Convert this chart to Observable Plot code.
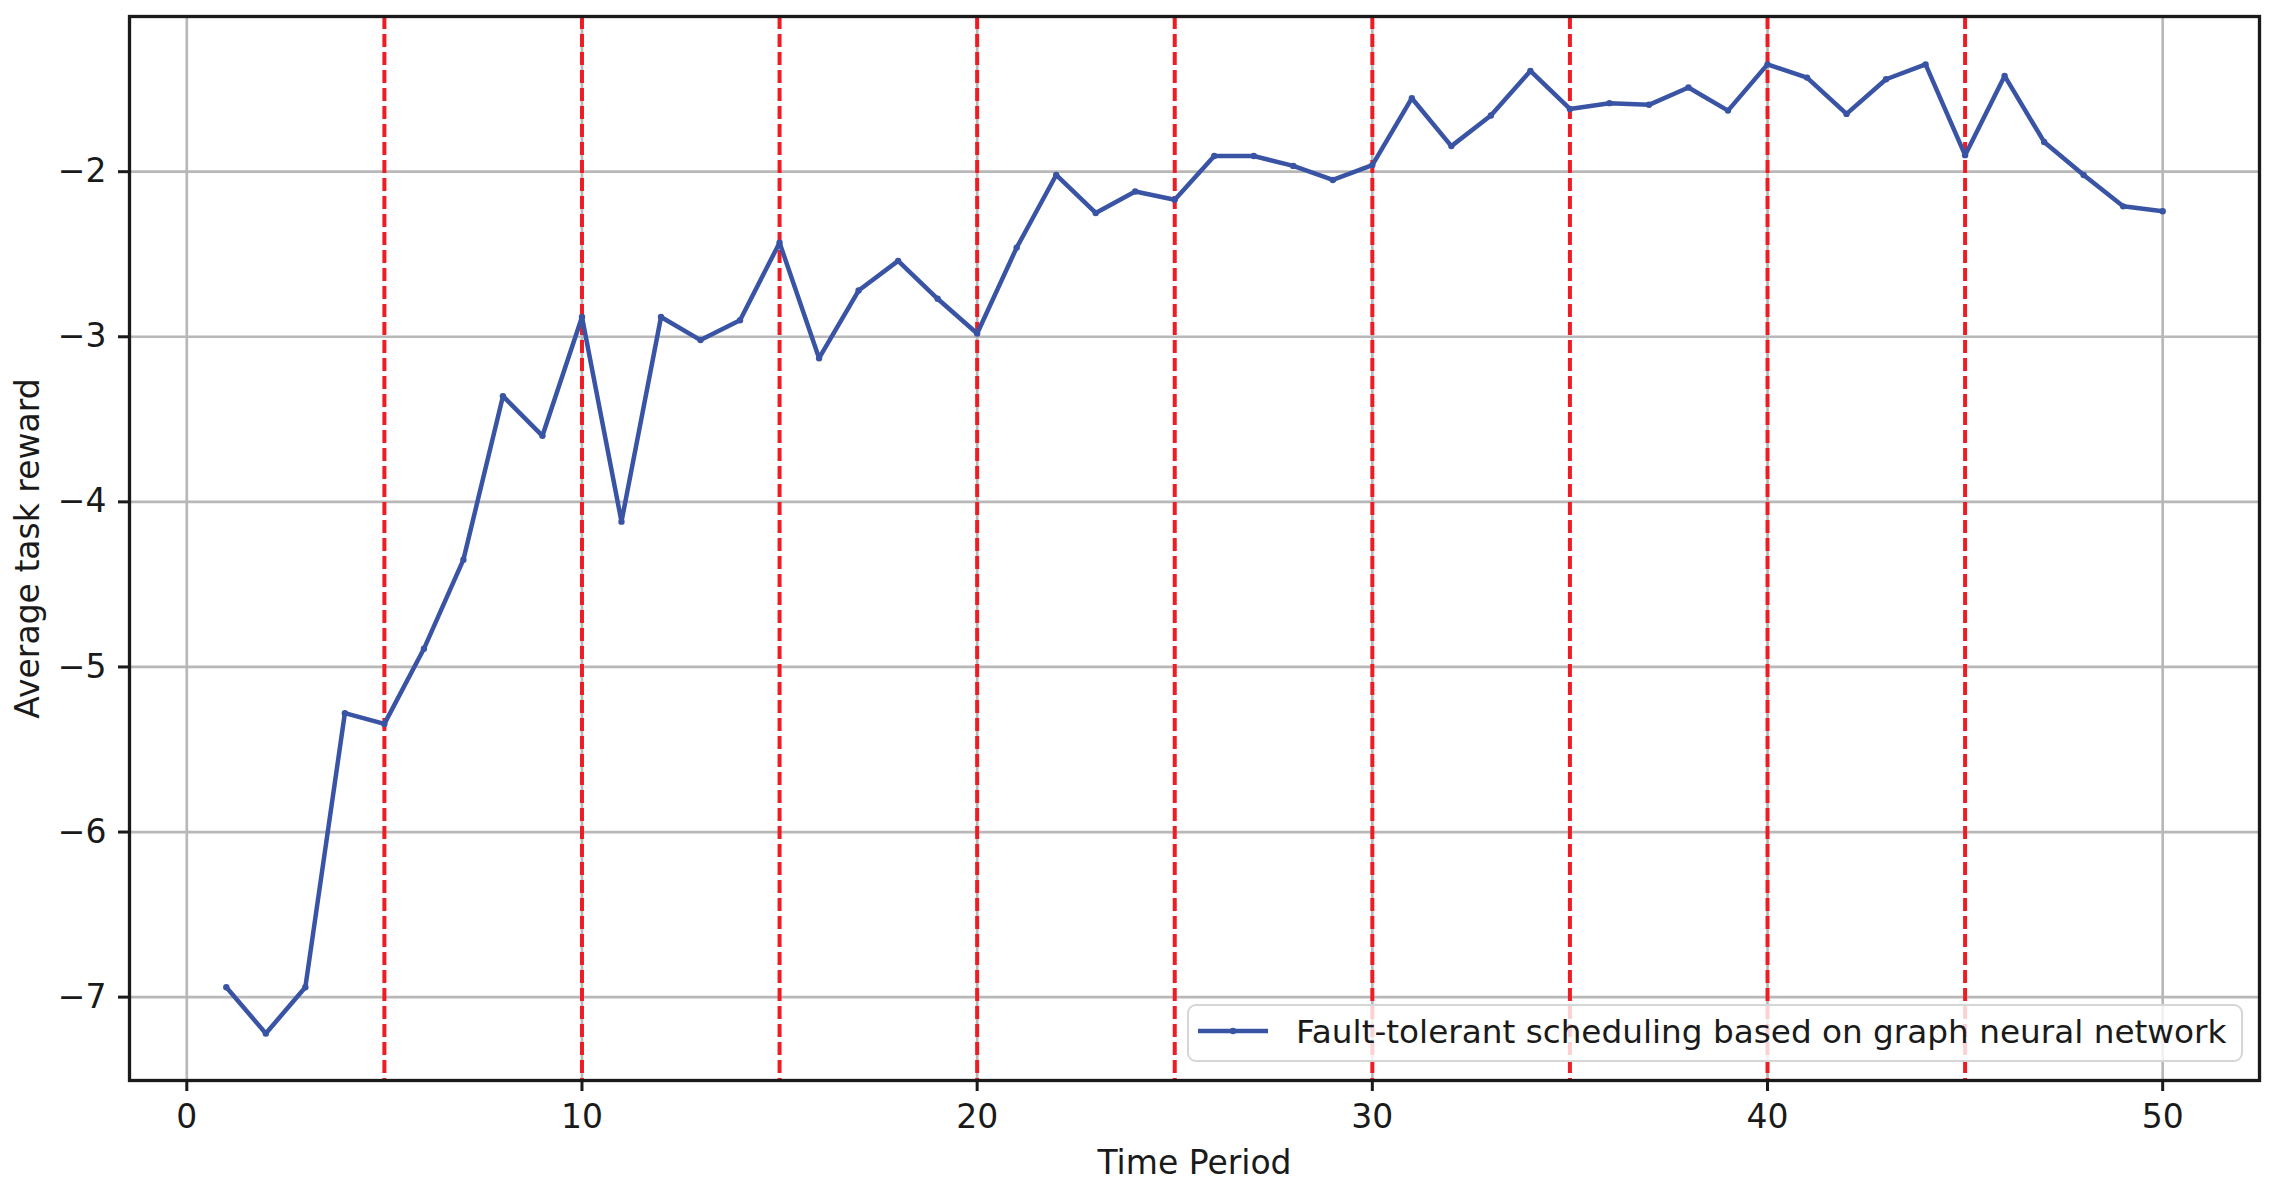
<!DOCTYPE html>
<html>
<head>
<meta charset="utf-8">
<script src="https://cdn.jsdelivr.net/npm/d3@7"></script>
<script src="https://cdn.jsdelivr.net/npm/@observablehq/plot@0.6"></script>
<style>
  html, body { margin: 0; padding: 0; background: white; }
  #wrap { position: relative; width: 2275px; height: 1192px; }
  #legend {
    position: absolute; left: 1187px; top: 1004px; width: 1052px; height: 54px;
    border: 2.7px solid #d6d6d6; border-radius: 9px; background: rgba(255,255,255,0.8);
    font-family: "DejaVu Sans", sans-serif; font-size: 32.7px; color: #1a1a1a;
  }
  #legend svg { position: absolute; left: 9px; top: 0px; }
  #legend span { position: absolute; left: 107px; top: 8px; line-height: 36px; white-space: nowrap; }
</style>
</head>
<body>
<div id="wrap"></div>
<script>
// Data
const periods = d3.range(1, 51);
const rewards = [
  -6.94, -7.22, -6.94, -5.28, -5.345, -4.89, -4.35, -3.36, -3.60, -2.88,
  -4.12, -2.88, -3.02, -2.90, -2.43, -3.13, -2.72, -2.54, -2.77, -2.98,
  -2.46, -2.02, -2.25, -2.12, -2.17, -1.905, -1.905, -1.965, -2.05, -1.96,
  -1.555, -1.845, -1.66, -1.39, -1.62, -1.585, -1.595, -1.49, -1.63, -1.35,
  -1.43, -1.65, -1.44, -1.35, -1.90, -1.42, -1.82, -2.02, -2.21, -2.24
];
const faultPeriods = [5, 10, 15, 20, 25, 30, 35, 40, 45];
const xTicks = [0, 10, 20, 30, 40, 50];
const yTicks = [-7, -6, -5, -4, -3, -2];
const seriesName = "Fault-tolerant scheduling based on graph neural network";
const xLabel = "Time Period";
const yLabel = "Average task reward";

const data = periods.map((p, i) => ({period: p, reward: rewards[i]}));

const blue = "#3a54a5";
const red = "#ee1d23";
const grid = "#b8b8b8";
const ink = "#1a1a1a";
const fmt = d3.format("d");

const chart = Plot.plot({
  width: 2275,
  height: 1192,
  marginLeft: 129,
  marginRight: 16,
  marginTop: 16,
  marginBottom: 112,
  style: {fontFamily: "DejaVu Sans", fontSize: "33px", background: "white", color: ink},
  x: {domain: [-1.45, 52.45]},
  y: {domain: [-7.505, -1.06]},
  marks: [
    Plot.gridX(xTicks, {stroke: grid, strokeOpacity: 1, strokeWidth: 2.7}),
    Plot.gridY(yTicks, {stroke: grid, strokeOpacity: 1, strokeWidth: 2.7}),
    Plot.ruleX(faultPeriods, {stroke: red, strokeWidth: 4, strokeDasharray: "13,5"}),
    Plot.line(data, {x: "period", y: "reward", stroke: blue, strokeWidth: 4.5}),
    Plot.dot(data, {x: "period", y: "reward", fill: blue, r: 3.2}),
    Plot.frame({stroke: ink, strokeWidth: 3.3}),
    Plot.axisX(xTicks, {label: null, tickFormat: fmt, tickSize: 11, tickPadding: 13, strokeWidth: 3, stroke: ink, fill: ink, fontSize: 33}),
    Plot.axisY(yTicks, {label: null, tickFormat: fmt, tickSize: 11, tickPadding: 12, strokeWidth: 3, stroke: ink, fill: ink, fontSize: 33}),
    Plot.text([xLabel], {frameAnchor: "bottom", dy: 83, lineAnchor: "middle", textAnchor: "middle", fontSize: 33, fill: ink}),
    Plot.text([yLabel], {frameAnchor: "left", dx: -101, rotate: -90, lineAnchor: "middle", textAnchor: "middle", fontSize: 33, fill: ink})
  ]
});

const wrap = document.getElementById("wrap");
wrap.appendChild(chart);

const legend = document.createElement("div");
legend.id = "legend";
legend.innerHTML = `<svg width="80" height="54"><line x1="0" x2="70" y1="25" y2="25" stroke="${blue}" stroke-width="4.5"/><circle cx="35" cy="25" r="3.2" fill="${blue}"/></svg><span></span>`;
legend.querySelector("span").textContent = seriesName;
wrap.appendChild(legend);
</script>
</body>
</html>
